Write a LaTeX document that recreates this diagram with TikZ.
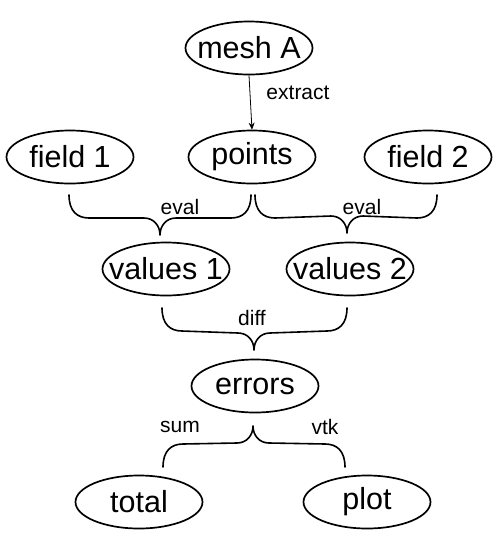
\documentclass[tikz,border=0pt]{standalone}
\usepackage{fontspec}
\setmainfont{Liberation Sans}
\usetikzlibrary{shapes.geometric,arrows.meta,calc}
\newcommand\mk[1]{\makebox[0pt]{#1}}
\tikzset{
  box/.style={ellipse,draw,line width=1.7pt,minimum width=127pt,minimum height=53pt,inner sep=0pt,font=\fontsize{30.5}{34}\selectfont},
  lbl/.style={font=\fontsize{21}{24}\selectfont,inner sep=0pt},
  conn/.style={line width=1.6pt,line cap=round,line join=round},
  arr/.style={line width=0.8pt,-{Stealth[length=7pt,width=6pt]}}
}
% #1 left end, #2 tip, #3 right end, #4 = 1 (brace opens down) or -1 (up)
\newcommand\cbrace[4]{%
  \draw[conn] (#1) .. controls +(0,#4*16) and +(-12,0) .. ($(#1)+(20,#4*23)$)
    -- ($(#2)+(-16,-#4*17)$) .. controls +(10,0) and +(0,-#4*9) .. (#2)
    .. controls +(0,-#4*9) and +(-10,0) .. ($(#2)+(16,-#4*17)$)
    -- ($(#3)+(-20,#4*23)$) .. controls +(12,0) and +(0,#4*16) .. (#3);}
\begin{document}
\begin{tikzpicture}[x=1pt,y=-1pt]
\useasboundingbox (0,0) rectangle (499,550);
\node[box] (mesh) at (249,48) {\mk{mesh A}};
\node[box] (pts) at (252,157) {\mk{points}};
\node[box] (f1) at (70,157) {\mk{field 1}};
\node[box] (f2) at (428,157) {\mk{field 2}};
\node[box] (v1) at (166,269) {\mk{values 1}};
\node[box] (v2) at (350,269) {\mk{values 2}};
\node[box] (err) at (255,386) {\mk{errors}};
\node[box] (tot) at (139,502) {\mk{total}};
\node[box] (plot) at (367,502) {\mk{plot}};
\draw[arr] (mesh.south) -- (pts.north);
\node[lbl] (lx) at (298,93) {extract};
% eval braces
\coordinate (e1l) at ($(f1.center)+(-1,38)$);
\coordinate (e1t) at ($(v1.center)+(-6,-34)$);
\coordinate (e1r) at ($(pts.center)+(-1,38)$);
\cbrace{e1l}{e1t}{e1r}{1}
\coordinate (e2l) at ($(pts.center)+(3,38)$);
\coordinate (e2t) at ($(v2.center)+(-3,-36)$);
\coordinate (e2r) at ($(f2.center)+(9,38)$);
\cbrace{e2l}{e2t}{e2r}{1}
\node[lbl] (le1) at (180,207) {eval};
\node[lbl] (le2) at (362,207) {eval};
% diff brace
\coordinate (dl) at ($(v1.center)+(-4,39)$);
\coordinate (dt) at ($(err.center)+(-1,-36)$);
\coordinate (dr) at ($(v2.center)+(-3,39)$);
\cbrace{dl}{dt}{dr}{1}
\node[lbl] (ld) at (252,318) {diff};
% sum / vtk brace
\coordinate (sl) at ($(tot.center)+(24,-35)$);
\coordinate (st) at ($(err.center)+(-2,40)$);
\coordinate (sr) at ($(plot.center)+(-22,-35)$);
\cbrace{sl}{st}{sr}{-1}
\node[lbl] (ls) at (180,427) {sum};
\node[lbl] (lv) at (325,427) {vtk};
\end{tikzpicture}
\end{document}
